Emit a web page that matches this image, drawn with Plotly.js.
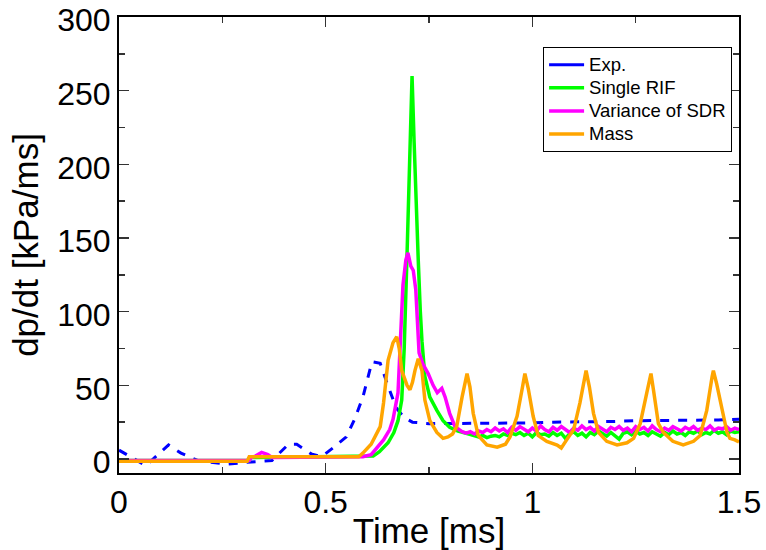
<!DOCTYPE html>
<html>
<head>
<meta charset="utf-8">
<script src="https://cdn.plot.ly/plotly-3.0.1.min.js"></script>
<style>html,body{margin:0;padding:0;background:#fff;}#chart{width:766px;height:550px;}</style>
</head>
<body>
<div id="chart"></div>
<script>
// ---- Exp. (blue dashed) ----
const expT = [0, 0.03, 0.065, 0.12, 0.15, 0.19, 0.26, 0.32, 0.37, 0.41, 0.43, 0.465, 0.49, 0.52, 0.55, 0.57, 0.59, 0.612, 0.632, 0.648, 0.67, 0.69, 0.71, 0.75, 0.80, 0.85, 0.90, 0.95, 1.00, 1.05, 1.10, 1.15, 1.20, 1.25, 1.30, 1.35, 1.40, 1.45, 1.50];
const expY = [6, 1, -4.5, 9.5, 4, -1, -3.5, -2, -1, 10, 10, 3.5, 1.5, 8, 15, 27, 42, 66, 65, 52, 35, 28, 25, 24, 24, 24, 24, 24.5, 24.5, 25, 25, 25.5, 25.5, 26, 26, 26, 26.5, 26.5, 27];

// ---- Single RIF (green) ----
const rifT = [0, 0.315, 0.32, 0.6, 0.615, 0.63, 0.651, 0.665, 0.675, 0.684, 0.69, 0.697, 0.703, 0.709, 0.714, 0.719, 0.724, 0.729, 0.733, 0.74, 0.752, 0.769, 0.784, 0.80, 0.82, 0.84, 0.86,
  0.87, 0.88, 0.89, 0.90, 0.91, 0.92, 0.93, 0.94, 0.95, 0.96, 0.97, 0.98, 0.99, 1.00, 1.01, 1.02, 1.03, 1.04, 1.05, 1.06, 1.07, 1.08, 1.09, 1.10,
  1.11, 1.12, 1.13, 1.14, 1.15, 1.16, 1.17, 1.18, 1.19, 1.20, 1.21, 1.22, 1.23, 1.24, 1.25, 1.26, 1.27, 1.28, 1.29, 1.30,
  1.31, 1.32, 1.33, 1.34, 1.35, 1.36, 1.37, 1.38, 1.39, 1.40, 1.41, 1.42, 1.43, 1.44, 1.45, 1.46, 1.47, 1.48, 1.49, 1.50];
const rifY = [-1, -1, 1, 1.5, 2, 5, 11, 18, 26, 40, 75, 140, 210, 260, 215, 165, 135, 100, 80, 56, 42, 33, 26, 21.5, 19, 17.5, 16,
  15, 16, 14.5, 15.5, 16, 15, 17, 16, 17.5, 16.5, 18, 16, 17.5, 15, 18, 16.5, 17, 15.5, 18, 16, 17.5, 14, 17, 18.5,
  16, 17.5, 15, 18, 16.5, 19, 17, 15.5, 18, 16, 13.5, 17.5, 18.5, 16.5, 19, 17, 18, 16, 18.5, 17,
  15.5, 18, 16.5, 19, 17, 18, 16, 18.5, 17.5, 19, 16.5, 18, 17, 19.5, 17.5, 18.5, 16.5, 19, 18, 18.5];

// ---- Variance of SDR (magenta) ----
const sdrT = [0, 0.315, 0.32, 0.33, 0.345, 0.36, 0.37, 0.59, 0.61, 0.64, 0.655, 0.663, 0.675, 0.68, 0.687, 0.694, 0.699, 0.706, 0.712, 0.718, 0.722, 0.726, 0.736, 0.748, 0.76, 0.77, 0.781, 0.789, 0.80, 0.813, 0.83,
  0.84, 0.85, 0.86, 0.87, 0.88, 0.89, 0.90, 0.91, 0.92, 0.93, 0.94, 0.95, 0.96, 0.97, 0.98, 0.99, 1.00, 1.01, 1.02, 1.03, 1.04, 1.05, 1.06, 1.07, 1.08, 1.09, 1.10,
  1.11, 1.12, 1.13, 1.14, 1.15, 1.16, 1.17, 1.18, 1.19, 1.20, 1.21, 1.22, 1.23, 1.24, 1.25, 1.26, 1.27, 1.28, 1.29, 1.30,
  1.31, 1.32, 1.33, 1.34, 1.35, 1.36, 1.37, 1.38, 1.39, 1.40, 1.41, 1.42, 1.43, 1.44, 1.45, 1.46, 1.47, 1.48, 1.49, 1.50];
const sdrY = [-1, -1, 1, 2, 4.5, 3, 1, 1.5, 3, 13, 20, 27, 45, 75, 118, 135, 140, 131, 128, 115, 95, 72, 64, 58, 50, 45, 48, 42, 31, 22, 18.5,
  17.5, 18.5, 17, 19, 18, 20, 18.5, 21, 19, 20.5, 18, 21.5, 19.5, 22, 20, 18.5, 21, 19, 22.5, 20, 18.5, 21.5, 19.5, 22, 20, 18, 21,
  19.5, 22.5, 20, 21.5, 19, 22, 20.5, 18.5, 21.5, 20, 22, 19.5, 21, 18.5, 22, 20, 21.5, 19, 22.5, 20,
  18.5, 21, 19.5, 22, 20.5, 19, 21.5, 20, 22, 19.5, 21, 20, 22.5, 19.5, 21, 20.5, 22, 19.5, 21, 20];

// ---- Mass (orange) ----
const massT = [0, 0.31, 0.315, 0.58, 0.59, 0.61, 0.632, 0.64, 0.651, 0.663, 0.672, 0.678, 0.684, 0.697, 0.704, 0.71, 0.716, 0.724, 0.733, 0.74, 0.752, 0.769, 0.784, 0.796, 0.807, 0.817, 0.83, 0.842, 0.849, 0.857, 0.869, 0.89, 0.915, 0.935, 0.946, 0.963, 0.975, 0.982, 0.99, 1.002, 1.014, 1.035, 1.06, 1.07, 1.083, 1.1, 1.115, 1.124, 1.13, 1.138, 1.148, 1.16, 1.18, 1.205, 1.229, 1.245, 1.261, 1.277, 1.287, 1.293, 1.305, 1.317, 1.34, 1.365, 1.39, 1.406, 1.422, 1.435, 1.438, 1.446, 1.459, 1.471, 1.478, 1.49, 1.5];
const massY = [-1.5, -1.5, 1.5, 1.5, 4, 10, 22, 38, 67, 79, 83, 75, 60, 50, 47, 52, 60, 68, 60, 40, 26, 18, 14, 15, 17, 22, 42, 58, 49, 31, 16, 9.5, 8, 10, 15, 29, 47, 58, 48, 29, 16, 12, 9.5, 7.5, 13, 20, 38, 51, 60, 49, 31, 18, 12, 9.5, 11, 14, 24, 45, 58, 47, 24, 18, 12, 9.5, 12, 16, 33, 56, 60, 51, 33, 18, 14, 13, 11.5];

const seriesNames = ['Exp.', 'Single RIF', 'Variance of SDR', 'Mass'];
const yTickVals = [0, 50, 100, 150, 200, 250, 300];

const FONT = 'Liberation Sans, Arial, Helvetica, sans-serif';
const lg = (s) => '<span style="font-size:18.5px">' + s + '</span>';

const traces = [
  // legend entry for Exp. (solid sample, as in the reference legend)
  {x: [null], y: [null], name: lg(seriesNames[0]), legendgroup: 'exp', mode: 'lines', line: {color: '#0000ff', width: 3}},
  {x: expT, y: expY, name: seriesNames[0], legendgroup: 'exp', showlegend: false, mode: 'lines', line: {color: '#0000ff', width: 3, dash: 'dash'}},
  {x: rifT, y: rifY, name: lg(seriesNames[1]), mode: 'lines', line: {color: '#00ff00', width: 3.5}},
  {x: sdrT, y: sdrY, name: lg(seriesNames[2]), mode: 'lines', line: {color: '#ff00ff', width: 3.5}},
  {x: massT, y: massY, name: lg(seriesNames[3]), mode: 'lines', line: {color: '#ffa500', width: 3.5}}
];

const axisCommon = {
  showgrid: false, zeroline: false, showline: true, linecolor: '#000', linewidth: 2,
  mirror: 'ticks', ticks: 'inside', ticklen: 10, tickwidth: 1.5, tickcolor: '#333',
  ticklabeloverflow: 'allow',
  tickfont: {family: FONT, size: 32, color: '#000'}
};

const layout = {
  width: 766, height: 550,
  margin: {l: 119, r: 27, t: 17, b: 77},
  paper_bgcolor: '#fff', plot_bgcolor: '#fff',
  font: {family: FONT, color: '#000'},
  showlegend: true,
  legend: {
    x: 0.684, y: 0.934, xanchor: 'left', yanchor: 'top',
    bgcolor: '#fff', bordercolor: '#000', borderwidth: 1,
    font: {family: FONT, size: 15.5, color: '#000'},
    itemwidth: 35,
    tracegroupgap: 0
  },
  xaxis: Object.assign({}, axisCommon, {
    range: [0, 1.5], dtick: 0.5, tick0: 0,
    minor: {ticks: 'inside', ticklen: 6, dtick: 0.25, tickcolor: '#333', tickwidth: 1.5},
    title: {text: 'Time [ms]', font: {family: FONT, size: 35, color: '#000'}, standoff: 0}
  }),
  yaxis: Object.assign({}, axisCommon, {
    range: [-9.5, 300.05], tickvals: yTickVals, ticklabelshift: 3,
    minor: {ticks: 'inside', ticklen: 6, dtick: 25, tickcolor: '#333', tickwidth: 1.5},
    title: {text: 'dp/dt [kPa/ms]', font: {family: FONT, size: 35, color: '#000'}, standoff: 8}
  })
};

Plotly.newPlot('chart', traces, layout, {displayModeBar: false, staticPlot: true});
</script>
</body>
</html>
